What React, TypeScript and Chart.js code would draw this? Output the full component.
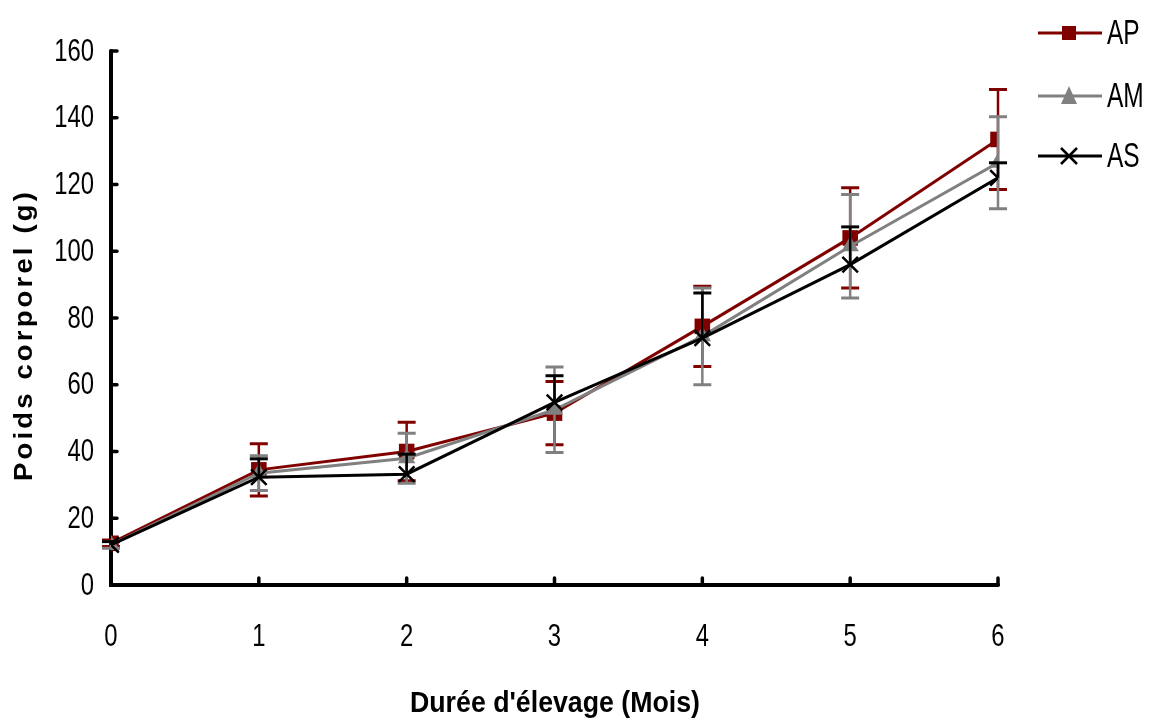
import React, { useEffect, useRef } from "react";
import { Chart, registerables } from "chart.js";

Chart.register(...registerables);

const months = [0, 1, 2, 3, 4, 5, 6];
const yTicks = [0, 20, 40, 60, 80, 100, 120, 140, 160];

const apMean = [12.5, 34.5, 40, 51.5, 77.5, 104, 133.5];
const apErr = [1, 7.8, 8.8, 9.5, 12, 15, 15];
const amMean = [12, 33.5, 38, 52.5, 74.5, 101.5, 126.5];
const amErr = [1, 5.2, 7.5, 12.8, 14.5, 15.5, 13.8];
const asMean = [12, 32.3, 33.2, 54.7, 74, 96, 122];
const asErr = [1, 5.5, 6, 8, 13.5, 11.3, 4.5];

const seriesNames = ["AP", "AM", "AS"];
const seriesColors = ["#800000", "#808080", "#000000"];
// AS shows only the upper half of its error bars
const seriesBothSides = [true, true, false];

const SANS = '"Liberation Sans", Arial, sans-serif';

function drawFitText(ctx: CanvasRenderingContext2D, text: string, x: number, y: number, font: string, width: number | null, sx: number, align: CanvasTextAlign) {
  ctx.save();
  ctx.font = font;
  ctx.textBaseline = "middle";
  ctx.textAlign = align;
  const w = ctx.measureText(text).width;
  const s = width ? width / w : sx;
  ctx.translate(x, y);
  ctx.scale(s, 1);
  ctx.fillStyle = "#000";
  ctx.fillText(text, 0, 0);
  ctx.restore();
}

const errorBarPlugin = {
  id: "errorBars",
  afterDatasetDraw(chart: any, args: any) {
    const ds = chart.data.datasets[args.index];
    const errs: number[] = ds.errors;
    if (!errs) return;
    const both = ds.bothSides;
    const ctx = chart.ctx;
    const xs = chart.scales.x;
    const ys = chart.scales.y;
    ctx.save();
    ctx.strokeStyle = ds.borderColor;
    ds.data.forEach((p: any, i: number) => {
      const px = xs.getPixelForValue(p.x);
      const mid = ys.getPixelForValue(p.y);
      const top = ys.getPixelForValue(p.y + errs[i]);
      const bot = ys.getPixelForValue(p.y - errs[i]);
      ctx.lineWidth = 2.5;
      ctx.beginPath();
      ctx.moveTo(px, top);
      ctx.lineTo(px, both ? bot : mid);
      ctx.stroke();
      ctx.lineWidth = 3;
      ctx.beginPath();
      ctx.moveTo(px - 9, top);
      ctx.lineTo(px + 9, top);
      if (both) {
        ctx.moveTo(px - 9, bot);
        ctx.lineTo(px + 9, bot);
      }
      ctx.stroke();
    });
    ctx.restore();
  },
};

const axesPlugin = {
  id: "customAxes",
  beforeDatasetsDraw(chart: any) {
    const ctx = chart.ctx;
    const xs = chart.scales.x;
    const ys = chart.scales.y;
    const x0 = xs.getPixelForValue(0);
    const x1 = xs.getPixelForValue(6);
    const y0 = ys.getPixelForValue(0);
    const y1 = ys.getPixelForValue(160);
    ctx.save();
    ctx.strokeStyle = "#000";
    ctx.lineCap = "round";
    ctx.lineWidth = 4;
    ctx.beginPath();
    ctx.moveTo(x0, y1);
    ctx.lineTo(x0, y0);
    ctx.lineTo(x1, y0);
    ctx.stroke();
    ctx.lineWidth = 3.5;
    ctx.beginPath();
    yTicks.forEach((v) => {
      const py = ys.getPixelForValue(v);
      ctx.moveTo(x0, py);
      ctx.lineTo(x0 + 6, py);
    });
    months.forEach((m) => {
      const px = xs.getPixelForValue(m);
      ctx.moveTo(px, y0);
      ctx.lineTo(px, y0 - 7);
    });
    ctx.stroke();
    ctx.restore();

    yTicks.forEach((v) => {
      drawFitText(ctx, String(v), x0 - 17, ys.getPixelForValue(v) + 1, `31px ${SANS}`, null, 0.77, "right");
    });
    months.forEach((m) => {
      drawFitText(ctx, String(m), xs.getPixelForValue(m), y0 + 52, `31px ${SANS}`, null, 0.77, "center");
    });
  },
  afterDraw(chart: any) {
    const ctx = chart.ctx;
    ctx.save();
    ctx.translate(25, 335);
    ctx.rotate(-Math.PI / 2);
    ctx.font = `bold 26px ${SANS}`;
    (ctx as any).letterSpacing = "3px";
    ctx.textAlign = "center";
    ctx.textBaseline = "middle";
    const t = "Poids corporel (g)";
    const w = ctx.measureText(t).width;
    ctx.scale(292 / w, 1);
    ctx.fillStyle = "#000";
    ctx.fillText(t, 0, 0);
    ctx.restore();

    drawFitText(ctx, "Durée d'élevage (Mois)", 555, 704, `bold 30px ${SANS}`, 290, 1, "center");

    const ly = [33, 96, 156];
    seriesNames.forEach((name, i) => {
      const y = ly[i];
      const c = seriesColors[i];
      ctx.save();
      ctx.strokeStyle = c;
      ctx.fillStyle = c;
      ctx.lineWidth = 3;
      ctx.beginPath();
      ctx.moveTo(1038, y);
      ctx.lineTo(1102, y);
      ctx.stroke();
      const cx = 1069;
      if (i === 0) {
        ctx.fillRect(cx - 7, y - 7, 14, 14);
      } else if (i === 1) {
        ctx.beginPath();
        ctx.moveTo(cx, y - 10);
        ctx.lineTo(cx + 8, y + 8);
        ctx.lineTo(cx - 8, y + 8);
        ctx.closePath();
        ctx.fill();
      } else {
        ctx.lineWidth = 2.5;
        ctx.beginPath();
        ctx.moveTo(cx - 8, y - 8);
        ctx.lineTo(cx + 8, y + 8);
        ctx.moveTo(cx + 8, y - 8);
        ctx.lineTo(cx - 8, y + 8);
        ctx.stroke();
      }
      ctx.restore();
      drawFitText(ctx, name, 1107, y + 1, `35px ${SANS}`, null, 0.7, "left");
    });
  },
};

function makeData(mean: number[]) {
  return months.map((m, i) => ({ x: m, y: mean[i] }));
}

export default function App() {
  const ref = useRef<HTMLCanvasElement | null>(null);
  useEffect(() => {
    if (!ref.current) return;
    const chart = new Chart(ref.current, {
      type: "line",
      data: {
        datasets: [
          {
            label: seriesNames[0],
            data: makeData(apMean),
            errors: apErr,
            bothSides: seriesBothSides[0],
            borderColor: seriesColors[0],
            backgroundColor: seriesColors[0],
            borderWidth: 3,
            pointStyle: "rect",
            pointRadius: 11,
            pointBorderWidth: 0,
            order: 3,
          } as any,
          {
            label: seriesNames[1],
            data: makeData(amMean),
            errors: amErr,
            bothSides: seriesBothSides[1],
            borderColor: seriesColors[1],
            backgroundColor: seriesColors[1],
            borderWidth: 3,
            pointStyle: "triangle",
            pointRadius: 10,
            pointBorderWidth: 0,
            order: 2,
          } as any,
          {
            label: seriesNames[2],
            data: makeData(asMean),
            errors: asErr,
            bothSides: seriesBothSides[2],
            borderColor: seriesColors[2],
            backgroundColor: seriesColors[2],
            borderWidth: 3,
            pointStyle: "crossRot",
            pointRadius: 11,
            pointBorderWidth: 2.5,
            order: 1,
          } as any,
        ],
      },
      options: {
        animation: false,
        responsive: true,
        maintainAspectRatio: false,
        layout: { padding: { left: 0, top: 51, right: 157, bottom: 0 } },
        plugins: { legend: { display: false }, tooltip: { enabled: false } },
        scales: {
          x: {
            type: "linear",
            min: 0,
            max: 6,
            afterBuildTicks: (s: any) => {
              s.ticks = months.map((v) => ({ value: v }));
            },
            ticks: { display: false },
            grid: { display: false, drawTicks: false },
            border: { display: false },
            afterFit: (s: any) => {
              s.height = 139;
            },
          },
          y: {
            type: "linear",
            min: 0,
            max: 160,
            afterBuildTicks: (s: any) => {
              s.ticks = yTicks.map((v) => ({ value: v }));
            },
            ticks: { display: false },
            grid: { display: false, drawTicks: false },
            border: { display: false },
            afterFit: (s: any) => {
              s.width = 111;
            },
          },
        },
      } as any,
      plugins: [axesPlugin, errorBarPlugin],
    });
    return () => chart.destroy();
  }, []);
  return (
    <div style={{ position: "absolute", left: 0, top: 0, width: 1155, height: 724, background: "#fff" }}>
      <canvas ref={ref} />
    </div>
  );
}
